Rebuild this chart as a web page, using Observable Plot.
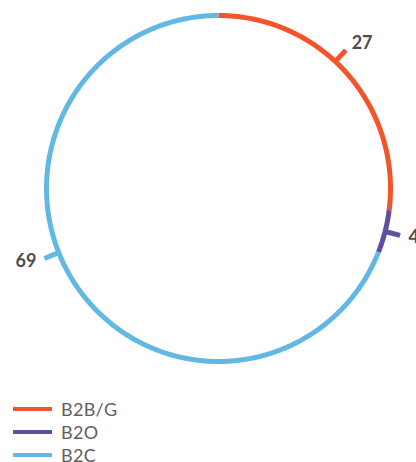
<!DOCTYPE html>
<html>
<head>
<meta charset="utf-8">
<script src="https://cdn.jsdelivr.net/npm/d3@7"></script>
<script src="https://cdn.jsdelivr.net/npm/@observablehq/plot@0.6"></script>
<style>
  html, body { margin: 0; padding: 0; background: #fff; }
  #chart { width: 416px; }
  .legend { margin-top: 12px; font-family: Lato, "Open Sans", sans-serif; font-size: 18px; color: #606060; letter-spacing: 0.3px; }
  .legend .row { display: flex; align-items: center; height: 23px; }
  .legend .swatch { width: 39px; height: 4px; margin-left: 13px; margin-right: 9px; }
</style>
</head>
<body>
<div id="chart"></div>
<script>
// Share of activity by business model (percent)
const segments = ["B2B/G", "B2O", "B2C"];
const shares = [27, 4, 69];
const colors = ["#f2552c", "#5e4fa0", "#62b8e2"];

// Where along each arc its value tick sits (0 = arc start, 1 = arc end)
const tickAlong = [0.44, 0.5, 0.55];

const total = d3.sum(shares);
let acc = 0;
const arcs = segments.map((key, i) => {
  const a0 = acc / total * 2 * Math.PI;
  acc += shares[i];
  const a1 = acc / total * 2 * Math.PI;
  const am = a0 + (a1 - a0) * tickAlong[i];
  return {key, value: shares[i], a0, a1, am};
});

// Sample each arc clockwise from 12 o'clock
const arcPoints = arcs.flatMap(s => {
  const n = Math.max(2, Math.ceil((s.a1 - s.a0) / (Math.PI / 360)));
  return d3.range(n + 1).map(k => {
    const a = s.a0 + (s.a1 - s.a0) * k / n;
    return {key: s.key, x: Math.sin(a), y: Math.cos(a)};
  });
});

const tickIn = 1, tickOut = 1.09, labelR = 1.14;

const labelStyle = {fontSize: 18, fontWeight: 700, fill: "#4d4d4d"};

const chart = Plot.plot({
  width: 416,
  height: 385,
  marginLeft: 46,
  marginRight: 26,
  marginTop: 15,
  marginBottom: 24,
  x: {domain: [-1, 1], axis: null},
  y: {domain: [-1, 1], axis: null},
  color: {domain: segments, range: colors},
  style: {fontFamily: "Lato, 'Open Sans', sans-serif", overflow: "visible"},
  marks: [
    Plot.line(arcPoints, {x: "x", y: "y", z: "key", stroke: "key", strokeWidth: 5, strokeLinecap: "butt"}),
    Plot.link(arcs, {
      x1: d => tickIn * Math.sin(d.am), y1: d => tickIn * Math.cos(d.am),
      x2: d => tickOut * Math.sin(d.am), y2: d => tickOut * Math.cos(d.am),
      stroke: "key", strokeWidth: 5, strokeLinecap: "butt"
    }),
    Plot.text(arcs.filter(d => Math.sin(d.am) >= 0), {
      x: d => labelR * Math.sin(d.am), y: d => labelR * Math.cos(d.am),
      text: d => String(d.value), textAnchor: "start", ...labelStyle
    }),
    Plot.text(arcs.filter(d => Math.sin(d.am) < 0), {
      x: d => labelR * Math.sin(d.am), y: d => labelR * Math.cos(d.am),
      text: d => String(d.value), textAnchor: "end", ...labelStyle
    })
  ]
});

const root = document.getElementById("chart");
root.appendChild(chart);

const legend = document.createElement("div");
legend.className = "legend";
segments.forEach((key, i) => {
  const row = document.createElement("div");
  row.className = "row";
  const sw = document.createElement("span");
  sw.className = "swatch";
  sw.style.background = colors[i];
  const lab = document.createElement("span");
  lab.textContent = key;
  row.appendChild(sw);
  row.appendChild(lab);
  legend.appendChild(row);
});
root.appendChild(legend);
</script>
</body>
</html>
